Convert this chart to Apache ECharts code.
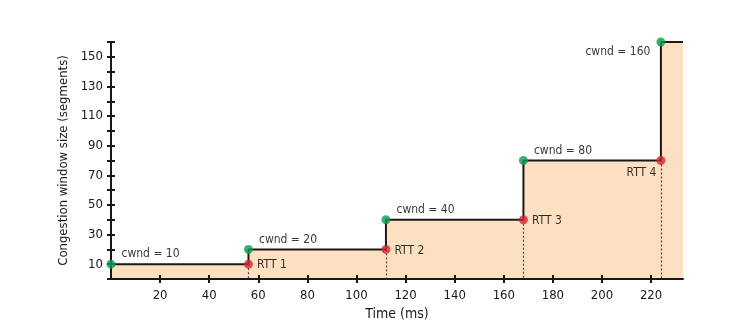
<!DOCTYPE html>
<html>
<head>
<meta charset="utf-8">
<script src="https://cdn.jsdelivr.net/npm/echarts@6/dist/echarts.min.js"></script>
<style>
  html, body { margin: 0; padding: 0; background: #fff; }
  #chart { width: 749px; height: 335px; }
</style>
</head>
<body>
<div id="chart"></div>
<script>
// TCP slow start: congestion window doubles every round trip
const rttTimes = [56, 112, 168, 224];          // ms at which each RTT completes
const cwndSizes = [10, 20, 40, 80, 160];        // window size (segments) per round
const stepStarts = [0, 56, 112, 168, 224];      // ms at which each window size begins
const timeEnd = 233;                            // right edge of the time axis
const rttLabels = ['RTT 1', 'RTT 2', 'RTT 3', 'RTT 4'];
const yTickLabels = [10, 30, 50, 70, 90, 110, 130, 150];
const xTickLabels = [20, 40, 60, 80, 100, 120, 140, 160, 180, 200, 220];

const FONT = '"DejaVu Sans Condensed", "Liberation Sans Narrow", sans-serif';
const INK = '#1a1718';
const GREEN = '#0b9c4f';
const RED = '#d4262f';

// step line: each window size holds until the next one starts
const stepData = stepStarts.map((t, i) => [t, cwndSizes[i]]);
stepData.push([timeEnd, cwndSizes[cwndSizes.length - 1]]);

// green: window opens; red: RTT ends, still at previous window size
const greenPts = stepStarts.map((t, i) => ({
  value: [t, cwndSizes[i]],
  label: i === cwndSizes.length - 1
    ? { position: 'left', offset: [-1, 10], align: 'right' }
    : { position: 'right', offset: [1, -10], align: 'left' }
}));
const redPts = rttTimes.map((t, i) => ({
  value: [t, cwndSizes[i]],
  name: rttLabels[i],
  label: i === rttTimes.length - 1
    ? { position: 'left', offset: [5, 12], align: 'right' }
    : { position: 'right', offset: [-1, 1], align: 'left' }
}));

const dropLines = rttTimes.map((t, i) => [
  { coord: [t, cwndSizes[i]] },
  { coord: [t, 0] }
]);

const xBase = {
  type: 'value', min: 0, max: timeEnd, interval: 20,
  position: 'bottom', z: 10,
  splitLine: { show: false }
};
const yBase = {
  type: 'value', min: 0, max: 160, interval: 10,
  position: 'left', z: 10,
  splitLine: { show: false }
};
const tickStyle = { color: INK, width: 2 };

const chart = echarts.init(document.getElementById('chart'), null, { renderer: 'canvas' });
chart.setOption({
  animation: false,
  backgroundColor: '#ffffff',
  textStyle: { fontFamily: FONT },
  grid: { left: 111, right: 66, top: 42, bottom: 56, containLabel: false },
  xAxis: [
    Object.assign({}, xBase, {
      name: 'Time (ms)', nameLocation: 'middle', nameGap: 28,
      nameTextStyle: { fontFamily: FONT, fontSize: 14, color: INK },
      axisLine: { show: true, lineStyle: { color: INK, width: 2 } },
      axisTick: { show: true, length: 4, lineStyle: tickStyle, customValues: xTickLabels },
      axisLabel: { fontFamily: FONT, fontSize: 13, color: INK, margin: 10,
                   customValues: xTickLabels }
    }),
    Object.assign({}, xBase, {
      axisLine: { show: false },
      axisTick: { show: true, inside: true, length: 4, lineStyle: tickStyle,
                  customValues: xTickLabels },
      axisLabel: { show: false }
    })
  ],
  yAxis: [
    Object.assign({}, yBase, {
      name: 'Congestion window size (segments)', nameLocation: 'middle', nameGap: 36,
      nameTextStyle: { fontFamily: FONT, fontSize: 13, color: INK },
      axisLine: { show: true, lineStyle: { color: INK, width: 2 } },
      axisTick: { show: true, length: 4, lineStyle: tickStyle },
      axisLabel: { fontFamily: FONT, fontSize: 13, color: INK, margin: 8,
                   customValues: yTickLabels }
    }),
    Object.assign({}, yBase, {
      axisLine: { show: false },
      axisTick: { show: true, inside: true, length: 4, lineStyle: tickStyle },
      axisLabel: { show: false }
    })
  ],
  series: [
    {
      type: 'line',
      data: stepData,
      step: 'end',
      symbol: 'none',
      lineStyle: { color: INK, width: 2 },
      areaStyle: { color: '#fde0c1', opacity: 1 },
      z: 2,
      markLine: {
        silent: true,
        symbol: 'none',
        label: { show: false },
        lineStyle: { color: '#4a4a4a', width: 1.2, type: [2, 2] },
        data: dropLines
      }
    },
    {
      type: 'scatter',
      data: greenPts,
      symbolSize: 9,
      itemStyle: { color: GREEN },
      z: 12,
      label: {
        show: true,
        formatter: p => 'cwnd = ' + p.value[1],
        fontFamily: FONT, fontSize: 12, color: '#000'
      }
    },
    {
      type: 'scatter',
      data: redPts,
      symbolSize: 9,
      itemStyle: { color: RED },
      z: 12,
      label: {
        show: true,
        formatter: p => p.name,
        fontFamily: FONT, fontSize: 12, color: '#000'
      }
    }
  ]
});
</script>
</body>
</html>
